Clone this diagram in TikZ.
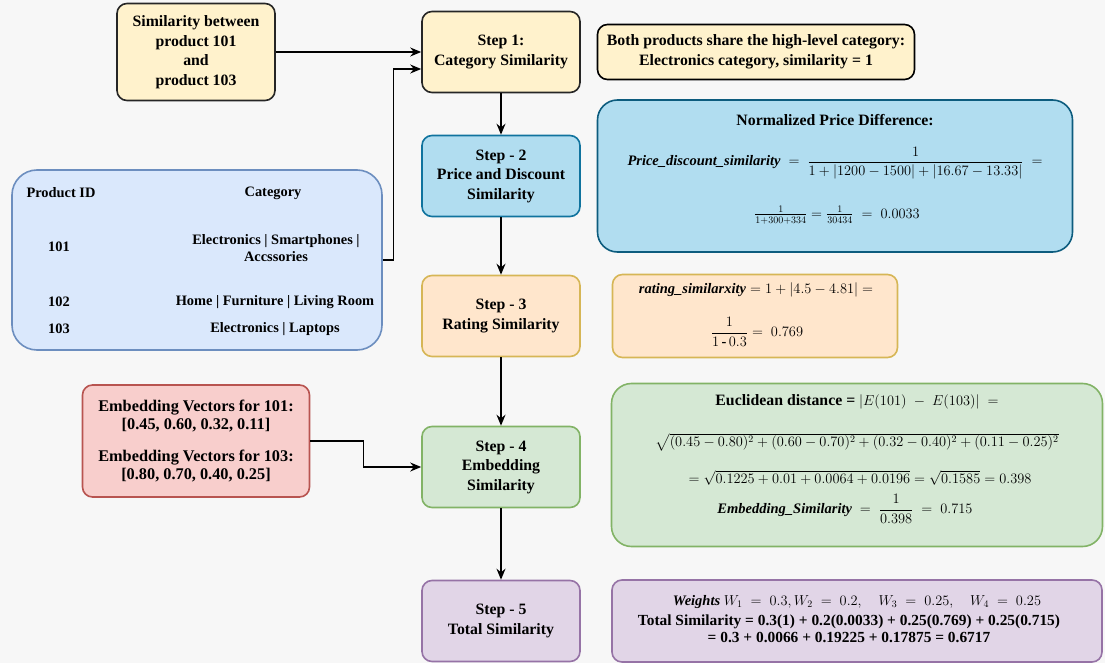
\documentclass[tikz,border=0pt]{standalone}
\usepackage{amsmath}
\usepackage{fontspec}
\setmainfont{Liberation Serif}
\usetikzlibrary{calc}
\usetikzlibrary{positioning}
\usetikzlibrary{arrows.meta}

\definecolor{bgGray}{HTML}{F7F7F7}
\definecolor{yelFill}{HTML}{FFF2CC}
\definecolor{bluFill}{HTML}{B1DDF0}
\definecolor{bluLine}{HTML}{10739E}
\definecolor{orgFill}{HTML}{FFE6CC}
\definecolor{orgLine}{HTML}{D6B656}
\definecolor{tblFill}{HTML}{DAE8FC}
\definecolor{tblLine}{HTML}{6C8EBF}
\definecolor{redFill}{HTML}{F8CECC}
\definecolor{redLine}{HTML}{B85450}
\definecolor{grnFill}{HTML}{D5E8D4}
\definecolor{grnLine}{HTML}{82B366}
\definecolor{prpFill}{HTML}{E1D5E7}
\definecolor{prpLine}{HTML}{9673A6}

\newcommand{\bvar}[1]{\mbox{\bfseries\itshape #1}}

\begin{document}
\begin{tikzpicture}[x=1pt, y=-1pt,
  font=\fontsize{15.8}{19.5}\selectfont\bfseries,
  box/.style={rectangle,
              rounded corners=10pt,
              line width=1.6pt,
              align=center,
              inner sep=0pt
  },
  stepbox/.style={box, minimum width=158pt, minimum height=81pt},
  panel/.style={box, rounded corners=20pt},
  txt/.style={align=center, inner sep=0pt},
  calcline/.style={txt, font=\fontsize{14.5}{17}\selectfont\bfseries},
  small/.style={font=\fontsize{14.4}{17}\selectfont\bfseries},
  flow/.style={-{Stealth[length=11pt,width=9pt]}, line width=1.3pt}
]
\fill [bgGray] (0,0) rectangle (1105,663);

\node [stepbox, fill=yelFill, draw=black!85] (step1) at (501,52) {
   Step 1:\\ Category Similarity
   };
\node [box, fill=yelFill, draw=black!85, minimum width=158pt, minimum height=97pt] (pair)
   at (196,52) {
   Similarity between\\ product 101\\ and\\ product 103
   };
\node [box, fill=yelFill, draw=black, minimum width=317pt, minimum height=55pt] (share)
   at (756,52) {
   Both products share the high-level category:\\ Electronics category, similarity = 1
   };

\node [stepbox, fill=bluFill, draw=bluLine] (step2) at (501,176) {
   Step - 2\\ Price and Discount\\ Similarity
   };
\node [panel, fill=bluFill, draw=bluLine!80!black, minimum width=475pt, minimum height=152pt] (price)
   at (835,176) {};
\node [txt] (priceTitle) at (835,120) {Normalized Price Difference:};
\node [calcline] (priceEq) at (835,163) {%
   $\bvar{Price\_discount\_similarity} \;=\; \displaystyle\frac{1}{1+\lvert 1200-1500\rvert+\lvert 16.67-13.33\rvert} \;=$};
\node [calcline] (priceVal) at (837,215) {%
   $\frac{1}{1+300+334} = \frac{1}{30434} \;=\; 0.0033$};

\node [stepbox, fill=orgFill, draw=orgLine] (step3) at (501,316) {
   Step - 3\\ Rating Similarity
   };
\node [box, fill=orgFill, draw=orgLine, minimum width=285pt, minimum height=83pt] (rate)
   at (755,316) {};
\node [calcline] (rateEq) at (756,290) {%
   $\bvar{rating\_similarxity} = 1 + \lvert 4.5 - 4.81\rvert =$};
\node [calcline] (rateVal) at (757,332) {%
   $\displaystyle\frac{1}{1\,\mbox{-}\,0.3} = \; 0.769$};

\node [box, rounded corners=25pt, fill=tblFill, draw=tblLine, minimum width=370pt, minimum height=180pt] (tbl)
   at (197,260) {};
\node [txt, small] (idHead) at (61,193) {Product ID};
\node [txt, small] (catHead) at (273,193) {Category};
\node [txt, small] (id101) at (59,247) {101};
\node [txt, small] (cat101) at (276,248) {Electronics | Smartphones |\\ Accssories};
\node [txt, small] (id102) at (59,302) {102};
\node [txt, small] (cat102) at (275,302) {Home | Furniture | Living Room};
\node [txt, small] (id103) at (59,329) {103};
\node [txt, small] (cat103) at (275,329) {Electronics | Laptops};

\node [stepbox, fill=grnFill, draw=grnLine] (step4) at (501,467) {
   Step - 4\\ Embedding\\ Similarity
   };
\node [box, font=\fontsize{16.3}{17.5}\selectfont\bfseries, fill=redFill, draw=redLine,
   minimum width=227pt, minimum height=112pt] (emb)
   at (196,441) {
   Embedding Vectors for 101:\\ {[0.45, 0.60, 0.32, 0.11]}\\[15pt]
   Embedding Vectors for 103:\\ {[0.80, 0.70, 0.40, 0.25]}
   };
\node [panel, fill=grnFill, draw=grnLine, minimum width=491pt, minimum height=163pt] (eucl)
   at (857,465) {};
\node [txt] (euclHead) at (857,402) {Euclidean distance = $\lvert E(101) \;-\; E(103)\rvert \;=$};
\node [calcline] (euclSqrt) at (857,442) {%
   $\sqrt{(0.45 - 0.80)^2 + (0.60 - 0.70)^2 + (0.32 - 0.40)^2 + (0.11 - 0.25)^2}$};
\node [calcline] (euclVal) at (860,478) {%
   $= \sqrt{0.1225+0.01+0.0064+0.0196} = \sqrt{0.1585} = 0.398$};
\node [calcline] (embSim) at (845,509) {%
   $\bvar{Embedding\_Similarity} \;=\; \displaystyle\frac{1}{0.398} \;=\; 0.715$};

\node [stepbox, fill=prpFill, draw=prpLine] (step5) at (501,621) {
   Step - 5\\ Total Similarity
   };
\node [box, fill=prpFill, draw=prpLine, minimum width=490pt, minimum height=82pt] (total)
   at (857,621) {};
\node [calcline] (weights) at (857,602) {%
   $\bvar{Weights}\ W_1 \;=\; 0.3, W_2 \;=\; 0.2, \quad W_3 \;=\; 0.25, \quad W_4 \;=\; 0.25$};
\node [txt, font=\fontsize{15.4}{17}\selectfont\bfseries] (totalVal) at (849,628.5) {
   Total Similarity = 0.3(1) + 0.2(0.0033) + 0.25(0.769) + 0.25(0.715)\\
   = 0.3 + 0.0066 + 0.19225 + 0.17875 = 0.6717
   };

\draw [flow] (pair.east) -- (step1.west);
\draw [flow] (tbl.east) -- ++(11,0) |- ($(step1.west)+(0,17)$);
\draw [flow] (step1) -- (step2);
\draw [flow] (step2) -- (step3);
\draw [flow] (step3) -- (step4);
\draw [flow] (step4) -- (step5);
\draw [flow] (emb.east) -- ++(53,0) |- (step4.west);

\end{tikzpicture}
\end{document}
